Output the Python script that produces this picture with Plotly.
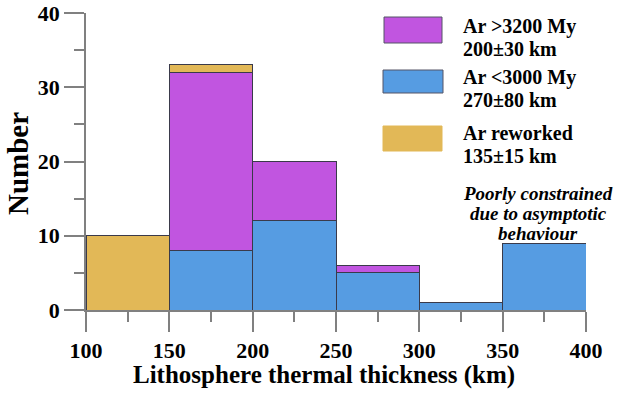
import plotly.graph_objects as go

bin_centers = [125, 175, 225, 275, 325, 375]
blue_vals = [None, 8, 12, 5, 1, 9]
purple_vals = [None, 24, 8, 1, None, None]
gold_vals = [10, 1, None, None, None, None]
x_ticks = [100, 150, 200, 250, 300, 350, 400]
y_ticks = [0, 10, 20, 30, 40]
legend_lines = [("Ar >3200 My", "200±30 km"), ("Ar <3000 My", "270±80 km"), ("Ar reworked", "135±15 km")]

PURPLE = "#C155E0"
BLUE = "#569CE2"
GOLD = "#E2B857"
FONT = "Liberation Serif"
AX = "#808080"

fig = go.Figure()
for vals, col in [(blue_vals, BLUE), (purple_vals, PURPLE), (gold_vals, GOLD)]:
    fig.add_trace(go.Bar(x=bin_centers, y=vals, width=50, marker=dict(color=col, line=dict(color="#3a3a4a", width=1)),
                         showlegend=False))

fig.update_layout(
    barmode="stack",
    width=625, height=393,
    margin=dict(l=86, r=39, t=13, b=83),
    plot_bgcolor="white", paper_bgcolor="white",
    font=dict(family=FONT, color="black"),
    xaxis=dict(range=[100, 400], tickvals=x_ticks, ticks="outside", ticklen=20, tickwidth=1.5, tickcolor=AX,
               showline=True, linecolor=AX, linewidth=1.5, showgrid=False, zeroline=False, automargin=False,
               tickfont=dict(size=22, family=FONT, weight="bold"), ticklabelstandoff=0,
               minor=dict(dtick=25, ticks="outside", ticklen=10, tickwidth=1.5, tickcolor=AX, showgrid=False)),
    yaxis=dict(range=[0, 40], tickvals=y_ticks, ticks="outside", ticklen=20, tickwidth=1.5, tickcolor=AX,
               showline=True, linecolor=AX, linewidth=1.5, showgrid=False, zeroline=False, automargin=False,
               tickfont=dict(size=22, family=FONT, weight="bold"),
               minor=dict(dtick=5, ticks="outside", ticklen=10, tickwidth=1.5, tickcolor=AX, showgrid=False)),
)

# positions expressed via screen pixel positions, converted to paper coordinates
pl, pr, pt, pb = 86, 586, 13, 310
def px(x): return (x - pl) / (pr - pl)
def py(y): return (pb - y) / (pb - pt)

# axis titles
fig.add_annotation(xref="paper", yref="paper", x=px(324), y=py(375), xanchor="center", yanchor="middle",
                   text="Lithosphere thermal thickness (km)", showarrow=False,
                   font=dict(size=25, family=FONT, weight="bold"))
fig.add_annotation(xref="paper", yref="paper", x=px(18), y=py(164), xanchor="center", yanchor="middle",
                   text="Number", textangle=-90, showarrow=False,
                   font=dict(size=29, family=FONT, weight="bold"))

# manual legend
boxes = [(384, 17, 442, 43, PURPLE), (383, 70, 443, 93, BLUE), (383, 126, 442, 151, GOLD)]
text_y = [(26, 49), (77, 100), (133, 156)]
for (x0, y0, x1, y1, col), (l1, l2), (ty1, ty2) in zip(boxes, legend_lines, text_y):
    fig.add_shape(type="rect", xref="paper", yref="paper", x0=px(x0), x1=px(x1), y0=py(y1), y1=py(y0),
                  fillcolor=col, line=dict(color="#555566" if col != GOLD else col, width=1))
    for t, yy in [(l1, ty1), (l2, ty2)]:
        fig.add_annotation(xref="paper", yref="paper", x=px(461), y=py(yy), xanchor="left", yanchor="middle",
                           text=t, showarrow=False, font=dict(size=20, family=FONT, weight="bold"))

for t, yy in [("Poorly constrained", 193), ("due to asymptotic", 213), ("behaviour", 233)]:
    fig.add_annotation(xref="paper", yref="paper", x=px(538), y=py(yy), xanchor="center", yanchor="middle",
                       text=f"<i>{t}</i>", showarrow=False, font=dict(size=19, family=FONT, weight="bold"))

fig.write_html("out.html", config={"displayModeBar": False},
               post_script="document.body.style.margin='0';document.body.style.padding='0';")
